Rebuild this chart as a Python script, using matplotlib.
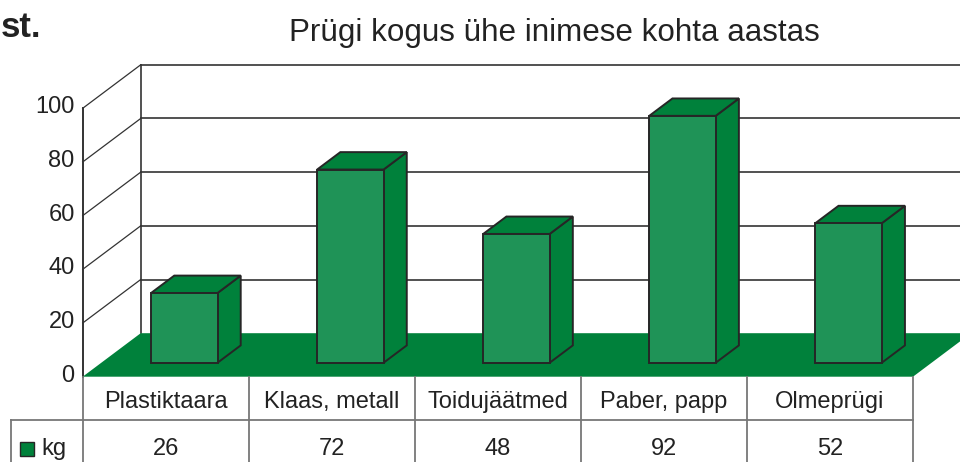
import matplotlib
matplotlib.use('Agg')
import matplotlib.pyplot as plt
from matplotlib.transforms import ScaledTranslation, IdentityTransform, Affine2D, blended_transform_factory
from matplotlib.patches import Polygon, Rectangle

# ---------------- data ----------------
categories = ["Plastiktaara", "Klaas, metall", "Toidujäätmed", "Paber, papp", "Olmeprügi"]
values = [26, 72, 48, 92, 52]
series_name = "kg"
yticks = [0, 20, 40, 60, 80, 100]
title = "Prügi kogus ühe inimese kohta aastas"
corner_text = "st."

# ---------------- style / layout ----------------
W, H, DPI = 960, 462, 100
FRONT = "#1f9357"
DARK = "#00813b"
EDGE = "#262626"
GRID = "#333333"
TBL = "#777777"
FS = 17.0

plt.rcParams['font.family'] = ['Liberation Sans', 'DejaVu Sans']
fig = plt.figure(figsize=(W / DPI, H / DPI), dpi=DPI)

# front plane of the 3-D box
x0, x1 = 82.7, 913.0
yb, yt = 376.7, 108.3
ax = fig.add_axes([x0 / W, (H - yb) / H, (x1 - x0) / W, (yb - yt) / H])
ax.set_xlim(0, len(categories))
ax.set_ylim(yticks[0], yticks[-1])
ax.axis('off')

DX, DY = 58.0, 43.5          # depth offset in pixels (front -> back)
BAR_W = 0.4                  # bar width in category units
BAR_F, BAR_B = 0.32, 0.72    # bar depth extent (fraction of total depth)
ID = IdentityTransform()
px = Affine2D().scale(1, -1).translate(0, H)   # pixel coords measured from top


def depth(f):
    return ax.transData + ScaledTranslation(f * DX / DPI, f * DY / DPI, fig.dpi_scale_trans)


def proj(x, v, f):
    return tuple(depth(f).transform((x, v)))


n = len(categories)

# back wall gridlines
for v in yticks[1:]:
    ax.plot([0, n + 0.5], [v, v], transform=depth(1), color=GRID, lw=1.2,
            clip_on=False, zorder=1)
# left wall: verticals and diagonals
ax.plot([0, 0], [yticks[0], yticks[-1]], transform=depth(1), color=GRID, lw=1.2,
        clip_on=False, zorder=1)
ax.plot([0, 0], [yticks[0], yticks[-1]], transform=ax.transData, color=GRID, lw=1.4,
        clip_on=False, zorder=1)
for v in yticks[1:]:
    a, b = proj(0, v, 0), proj(0, v, 1)
    ax.plot([a[0], b[0]], [a[1], b[1]], transform=ID, color=GRID, lw=0.9,
            clip_on=False, zorder=1)

# floor (slanted right edge)
floor = Polygon([proj(0, 0, 0), proj(n, 0, 0), proj(n, 0, 1), proj(0, 0, 1)],
                closed=True, transform=ID, facecolor=DARK, edgecolor='none', zorder=2)
fig.add_artist(floor)

# bars
for i, v in enumerate(values):
    xl = i + 0.5 - BAR_W / 2
    xr = i + 0.5 + BAR_W / 2
    side = [proj(xr, 0, BAR_F), proj(xr, 0, BAR_B), proj(xr, v, BAR_B), proj(xr, v, BAR_F)]
    top = [proj(xl, v, BAR_F), proj(xr, v, BAR_F), proj(xr, v, BAR_B), proj(xl, v, BAR_B)]
    front = [proj(xl, 0, BAR_F), proj(xr, 0, BAR_F), proj(xr, v, BAR_F), proj(xl, v, BAR_F)]
    for pts, col in ((side, DARK), (top, DARK), (front, FRONT)):
        fig.add_artist(Polygon(pts, closed=True, transform=ID, facecolor=col,
                               edgecolor=EDGE, lw=1.4, joinstyle='miter', zorder=3))

# y tick labels
for v in yticks:
    xx, yy = proj(0, v, 0)
    fig.text(xx - 8, yy + 1, str(v), transform=ID, ha='right', va='center',
             fontsize=FS, color='#222222')

# ---------------- data table ----------------
col_px = [ax.transData.transform((c, 0))[0] for c in range(n + 1)]
tb = blended_transform_factory(ID, px)
ROW1_TOP, ROW2_TOP, ROW_BOT = 377, 420, 470
LEG_L = 11

for c in col_px:
    fig.add_artist(plt.Line2D([c, c], [ROW1_TOP, ROW_BOT], transform=tb, color=TBL, lw=1.3, zorder=4))
fig.add_artist(plt.Line2D([LEG_L, col_px[-1]], [ROW2_TOP, ROW2_TOP], transform=tb, color=TBL, lw=1.3, zorder=4))
fig.add_artist(plt.Line2D([LEG_L, LEG_L], [ROW2_TOP, ROW_BOT], transform=tb, color=TBL, lw=1.3, zorder=4))

for i, (cat, v) in enumerate(zip(categories, values)):
    cx = (col_px[i] + col_px[i + 1]) / 2
    fig.text(cx, 408, cat, transform=tb, ha='center', va='baseline', fontsize=FS, color='#222222')
    fig.text(cx, 455, str(v), transform=tb, ha='center', va='baseline', fontsize=FS, color='#222222')

# legend key
fig.add_artist(Rectangle((19.5, 455.5), 14, -14, transform=tb, facecolor=DARK,
                         edgecolor=EDGE, lw=1.0, zorder=5))
fig.text(41.5, 455, series_name, transform=tb, ha='left', va='baseline', fontsize=FS, color='#222222')

# ---------------- titles ----------------
fig.text(554.5, 41, title, transform=tb, ha='center', va='baseline', fontsize=22.6, color='#222222')
fig.text(1, 37, corner_text, transform=tb, ha='left', va='baseline', fontsize=25,
         fontweight='bold', color='#222222')

fig.savefig("out.png", dpi=DPI)
